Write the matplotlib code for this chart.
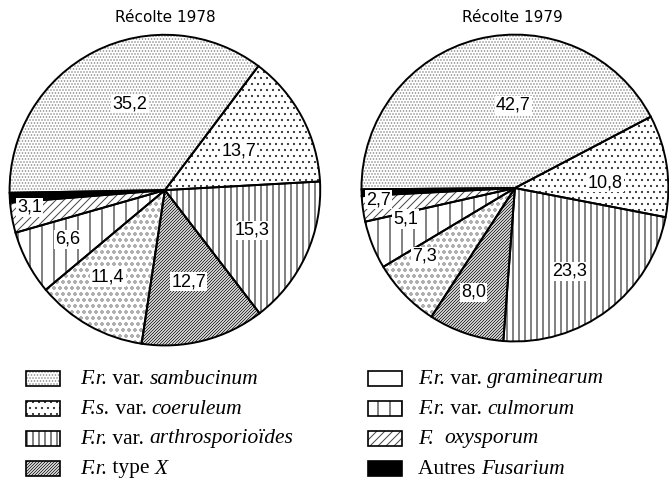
import matplotlib
matplotlib.use("Agg")
import matplotlib.pyplot as plt
from matplotlib.patches import Rectangle
import numpy as np

# data (percent of isolates), order = clockwise from the left
species = ["F.r. var. sambucinum", "F.s. var. coeruleum", "F.r. var. arthrosporioïdes",
           "F.r. type X", "F.r. var. graminearum", "F.r. var. culmorum",
           "F. oxysporum", "Autres Fusarium"]
vals_1978 = [35.2, 13.7, 15.3, 12.7, 11.4, 6.6, 3.1, 1.0]
vals_1979 = [42.7, 10.8, 23.3, 8.0, 7.3, 5.1, 2.7, 0.7]
labels_1978 = ["35,2", "13,7", "15,3", "12,7", "11,4", "6,6", "3,1", ""]
labels_1979 = ["42,7", "10,8", "23,3", "8,0", "7,3", "5,1", "2,7", ""]

# legend text split in (text, italic?) pieces
leg_parts = [
    [("F.r.", True), (" var. ", False), ("sambucinum", True)],
    [("F.s.", True), (" var. ", False), ("coeruleum", True)],
    [("F.r.", True), (" var. ", False), ("arthrosporioïdes", True)],
    [("F.r.", True), (" type ", False), ("X", True)],
    [("F.r.", True), (" var. ", False), ("graminearum", True)],
    [("F.r.", True), (" var. ", False), ("culmorum", True)],
    [("F.", True), ("  ", False), ("oxysporum", True)],
    [("Autres ", False), ("Fusarium", True)],
]

# styles (dpi 72 so hatch spacing falls on whole pixels -> no moire)
DPI = 72
K = 100 / 72  # keep sizes as if drawn at 100 dpi
hatches = ["....", "..", "||", "////////", "oo", "|", "///", None]
leg_hatches = ["....", "..", "||", "////////", None, "|", "///", None]
hatch_cols = ["#8a8a8a", "#333333", "black", "#222222", "#b0b0b0", "black", "#444444", "black"]
faces = ["white"] * 7 + ["black"]

plt.rcParams["hatch.linewidth"] = 0.7 * K

W, H = 669.0, 485.0
fig = plt.figure(figsize=(W / DPI, H / DPI), dpi=DPI)


def draw_pie(rect, vals, labels, start, lbl_r, lbl_off):
    ax = fig.add_axes(rect)
    wedges, _ = ax.pie(vals, startangle=start, counterclock=False,
                       colors=faces, hatch=hatches,
                       wedgeprops=dict(linewidth=0))
    for w, c in zip(wedges, hatch_cols):
        w.set_edgecolor(c)
        w.set_linewidth(0)
    # outlines
    ax.pie(vals, startangle=start, counterclock=False,
           wedgeprops=dict(fill=False, edgecolor="black", linewidth=1.4 * K))
    for w, lab, r, off in zip(wedges, labels, lbl_r, lbl_off):
        if not lab:
            continue
        mid = np.deg2rad((w.theta1 + w.theta2) / 2 + off)
        ax.text(r * np.cos(mid), r * np.sin(mid), lab, ha="center", va="center",
                fontsize=13 * K, family="Liberation Sans",
                bbox=dict(facecolor="white", edgecolor="none", pad=0.8 * K))
    ax.set_xlim(-1.01, 1.01)
    ax.set_ylim(-1.01, 1.01)
    ax.axis("off")
    return ax


draw_pie([0.012, 0.2845, 0.469, 0.647], vals_1978, labels_1978, 181,
         [0.60, 0.54, 0.62, 0.61, 0.67, 0.70, 0.88, 0],
         [-5, 0, 0, 0, -4, -1, -3, 0])
draw_pie([0.538, 0.2928, 0.4634, 0.639], vals_1979, labels_1979, 180.5,
         [0.54, 0.59, 0.65, 0.73, 0.74, 0.74, 0.89, 0],
         [-13, -5, -4, -3, -7, -6, -3, 0])

fig.text(165 / W, 1 - 17.5 / H, "Récolte 1978", ha="center", va="center", fontsize=11 * K)
fig.text(512 / W, 1 - 17.5 / H, "Récolte 1979", ha="center", va="center", fontsize=11 * K)

# legend, two columns of four rows
row_y = [378, 408, 438, 468]
box_x = [26, 368]
text_x = [80, 418]
box_w, box_h = 34, 15
renderer = fig.canvas.get_renderer()
for i, parts in enumerate(leg_parts):
    col, row = divmod(i, 4)
    y = row_y[row]
    bx = box_x[col]
    fig.add_artist(Rectangle((bx / W, 1 - (y + box_h / 2) / H), box_w / W, box_h / H,
                             transform=fig.transFigure, facecolor=faces[i],
                             hatch=leg_hatches[i], edgecolor=hatch_cols[i], linewidth=0))
    fig.add_artist(Rectangle((bx / W, 1 - (y + box_h / 2) / H), box_w / W, box_h / H,
                             transform=fig.transFigure, fill=False,
                             edgecolor="black", linewidth=1.2 * K))
    x = text_x[col]
    for s, it in parts:
        t = fig.text(x / W, 1 - (y + 5.5) / H, s, ha="left", va="baseline",
                     family="Liberation Serif", fontsize=15.5 * K,
                     style="italic" if it else "normal")
        x = t.get_window_extent(renderer).x1

fig.savefig("out.png", dpi=DPI)
